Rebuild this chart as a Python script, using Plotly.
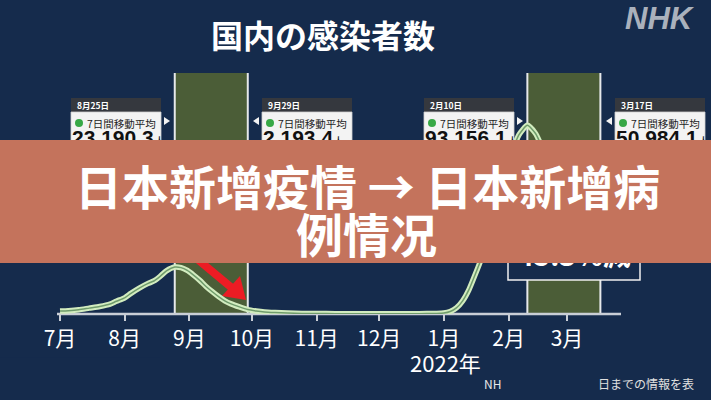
import plotly.graph_objects as go
import pandas as pd

# ---------------- data ----------------
dates = [
    "2021-07-01", "2021-07-05", "2021-07-10", "2021-07-15", "2021-07-20", "2021-07-25",
    "2021-07-28", "2021-08-01", "2021-08-04", "2021-08-08", "2021-08-12", "2021-08-15",
    "2021-08-18", "2021-08-21", "2021-08-25", "2021-08-28", "2021-08-31", "2021-09-03",
    "2021-09-06", "2021-09-09", "2021-09-12", "2021-09-15", "2021-09-18", "2021-09-21",
    "2021-09-25", "2021-09-29", "2021-10-03", "2021-10-07", "2021-10-12", "2021-10-18",
    "2021-10-25", "2021-11-01", "2021-11-10", "2021-11-20", "2021-12-01", "2021-12-10",
    "2021-12-20", "2021-12-28", "2022-01-01", "2022-01-04", "2022-01-07", "2022-01-10",
    "2022-01-13", "2022-01-16", "2022-01-19", "2022-01-22", "2022-01-25", "2022-01-28",
    "2022-01-31", "2022-02-03", "2022-02-06", "2022-02-10", "2022-02-14", "2022-02-18",
    "2022-02-22", "2022-02-26", "2022-03-02", "2022-03-06", "2022-03-10", "2022-03-14",
    "2022-03-17",
]
cases = [
    1480, 1650, 2100, 2900, 3700, 4900,
    6300, 8000, 10200, 12800, 15000, 16300,
    18600, 21300, 23190.3, 22900, 21500, 19200,
    16600, 13600, 11000, 8600, 6500, 5000,
    3500, 2193.4, 1500, 1000, 700, 450,
    300, 230, 170, 130, 110, 130,
    170, 280, 450, 1200, 3000, 6500,
    12000, 19500, 27500, 38000, 48500, 60000,
    71000, 81000, 88500, 93156.1, 89000, 80000,
    71000, 65000, 61000, 57000, 55000, 52500,
    50984.1,
]
tick_dates = ["2021-07-01", "2021-08-01", "2021-09-01", "2021-10-01", "2021-11-01",
              "2021-12-01", "2022-01-01", "2022-02-01", "2022-03-01"]
tick_labels = ["7月", "8月", "9月", "10月", "11月", "12月", "1月", "2月", "3月"]
period_starts = ["2021-08-25", "2022-02-10"]
period_ends = ["2021-09-29", "2022-03-17"]
callout_dates = ["8月25日", "9月29日", "2月10日", "3月17日"]
callout_values = ["23,190.3", "2,193.4", "93,156.1", "50,984.1"]
callout_caption = "7日間移動平均"
change_label = "45.3%減"
chart_title = "国内の感染者数"
banner_lines = ["日本新增疫情 → 日本新增病", "例情况"]
year_labels = ["2021年", "2022年"]

# ---------------- geometry ----------------
W, H = 711, 400
PLOT_H = 314
PX_PER_DAY = 507 / 243
YMAX = 155000
X_START = pd.Timestamp("2021-07-01") - pd.Timedelta(days=60 / PX_PER_DAY)
X_END = X_START + pd.Timedelta(days=W / PX_PER_DAY)

BG = "#152b4c"
OLIVE = "#4b5d37"
JP = "Noto Sans CJK JP"
SC = "Noto Sans CJK SC"


def px(x):
    return x / W


def py(y):
    return (PLOT_H - y) / PLOT_H


def xdate(x):
    return X_START + pd.Timedelta(days=x / PX_PER_DAY)


def yval(y):
    return (PLOT_H - y) / PLOT_H * YMAX


def label(x, y, text, size, color="white", family=JP, xanchor="center", **fontkw):
    return dict(xref="paper", yref="paper", x=px(x), y=py(y), text=text, showarrow=False,
                xanchor=xanchor, yanchor="middle",
                font=dict(family=family, size=size, color=color, **fontkw))


shapes = []
annotations = []

# shaded periods
for s, e in zip(period_starts, period_ends):
    shapes.append(dict(type="rect", layer="below", xref="x", yref="paper",
                       x0=s, x1=e, y0=0, y1=py(73), fillcolor=OLIVE, line=dict(width=0)))
for d in period_starts + period_ends:
    shapes.append(dict(type="line", layer="below", xref="x", yref="paper",
                       x0=d, x1=d, y0=0, y1=py(73), line=dict(color="#e6e8ea", width=2)))

# 45.3% box
shapes.append(dict(type="rect", layer="below", xref="paper", yref="paper",
                   x0=px(508), x1=px(640), y0=py(280), y1=py(226),
                   fillcolor=BG, line=dict(color="#f0f0f0", width=1.5)))

# callouts
lefts = [71, 262, 424, 615]
sides = ["right", "left", "right", "left"]
CW = 90
for L, side, dlabel in zip(lefts, sides, callout_dates):
    R = L + CW
    shapes.append(dict(type="rect", layer="below", xref="paper", yref="paper",
                       x0=px(L), x1=px(R), y0=py(112), y1=py(98),
                       fillcolor="#35383e", line=dict(width=0)))
    shapes.append(dict(type="rect", layer="below", xref="paper", yref="paper",
                       x0=px(L), x1=px(R), y0=py(160), y1=py(112),
                       fillcolor="#f3f3f3", line=dict(color="#cfcfcf", width=0.8)))
    shapes.append(dict(type="circle", layer="below", xref="paper", yref="paper",
                       x0=px(L + 4), x1=px(L + 12), y0=py(127), y1=py(119),
                       fillcolor="#37a846", line=dict(width=0)))
    if side == "right":
        pts = [(R + 3, 117), (R + 9, 121), (R + 3, 125)]
    else:
        pts = [(L - 3, 117), (L - 9, 121), (L - 3, 125)]
    path = "M " + " L ".join(f"{px(a):.5f},{py(b):.5f}" for a, b in pts) + " Z"
    shapes.append(dict(type="path", layer="below", xref="paper", yref="paper",
                       path=path, fillcolor="#f3f3f3", line=dict(width=0)))
    annotations.append(label(L + 4, 105, f"<b>{dlabel}</b>", 8.5, xanchor="left"))
    annotations.append(label(L + 14, 123, callout_caption, 10.5, color="#1e1e1e", xanchor="left"))

# axis line
shapes.append(dict(type="line", layer="below", xref="paper", yref="paper",
                   x0=px(57), x1=px(621), y0=0, y1=0, line=dict(color="#c9ced6", width=2.5)))

# red arrow
shapes.append(dict(type="line", layer="below", xref="paper", yref="paper",
                   x0=px(196), y0=py(258), x1=px(232), y1=py(288),
                   line=dict(color="#ec1c24", width=8)))
head = [(246, 300), (222, 296), (240, 276)]
shapes.append(dict(type="path", layer="below", xref="paper", yref="paper",
                   path="M " + " L ".join(f"{px(a):.5f},{py(b):.5f}" for a, b in head) + " Z",
                   fillcolor="#ec1c24", line=dict(width=0)))

# banner and the cover over the 2021 label (above traces)
shapes.append(dict(type="rect", layer="above", xref="paper", yref="paper",
                   x0=0, x1=1, y0=py(263), y1=py(140), fillcolor="#c4735c", line=dict(width=0)))
shapes.append(dict(type="rect", layer="above", xref="paper", yref="paper",
                   x0=0, x1=px(160), y0=py(385), y1=py(357.5), fillcolor=BG, line=dict(width=0)))

# ---------------- traces ----------------
fig = go.Figure()
fig.add_trace(go.Scatter(x=dates, y=cases, mode="lines",
                         line=dict(color="#d2ecbf", width=5.5, shape="spline", smoothing=0.6),
                         hoverinfo="skip", cliponaxis=False))
fig.add_trace(go.Scatter(x=dates, y=cases, mode="lines",
                         line=dict(color="#6f9b6b", width=1.5, shape="spline", smoothing=0.6),
                         hoverinfo="skip", cliponaxis=False))

# partly hidden numbers (under the banner)
fig.add_trace(go.Scatter(
    x=[xdate(L + 1) for L in lefts], y=[yval(140)] * 4, mode="text",
    text=[f"<b>{v}</b><span style='font-size:11px'>人</span>" for v in callout_values],
    textposition="middle right", textfont=dict(family="Liberation Sans", size=21, color="#111111"),
    hoverinfo="skip", cliponaxis=False))
fig.add_trace(go.Scatter(
    x=[xdate(574)], y=[yval(259)], mode="text", text=[f"<b>{change_label}</b>"],
    textposition="middle center", textfont=dict(family=JP, size=28, color="white"),
    hoverinfo="skip", cliponaxis=False))
fig.add_trace(go.Scatter(
    x=[xdate(61)], y=[yval(361)], mode="text", text=[year_labels[0]],
    textposition="middle center", textfont=dict(family=JP, size=21, color="white"),
    hoverinfo="skip", cliponaxis=False))

# ---------------- texts ----------------
annotations.append(label(323, 34, f"<b>{chart_title}</b>", 32))
annotations.append(label(660, 19, "NHK", 31, color="#aab1bc", family="Liberation Sans",
                         weight="bold", style="italic"))
annotations.append(label(W / 2 + 12, 184, f"<b>{banner_lines[0]}</b>", 47, family=SC))
annotations.append(label(366, 232, f"<b>{banner_lines[1]}</b>", 47, family=SC))
annotations.append(label(445, 362, year_labels[1], 22))
annotations.append(label(482, 383, "NH", 12, color="#e8e8e8", xanchor="left"))
annotations.append(label(596, 383, "日までの情報を表", 12, color="#e0e0e0", xanchor="left"))

fig.update_layout(
    width=W, height=H,
    margin=dict(l=0, r=0, t=0, b=H - PLOT_H, pad=0),
    paper_bgcolor=BG, plot_bgcolor="rgba(0,0,0,0)",
    showlegend=False,
    font=dict(family=JP, color="white"),
    shapes=shapes, annotations=annotations,
    xaxis=dict(type="date", range=[X_START, X_END], tickmode="array",
               tickvals=tick_dates, ticktext=tick_labels, ticks="outside", ticklen=6,
               tickwidth=2, tickcolor="#c9ced6", showgrid=False, zeroline=False,
               showline=False, automargin=False, fixedrange=True,
               tickfont=dict(family=JP, size=21, color="white")),
    yaxis=dict(range=[0, YMAX], visible=False, showgrid=False, zeroline=False,
               automargin=False, fixedrange=True),
)

fig.write_html("out.html", config={"displayModeBar": False},
               post_script="document.body.style.margin='0';")
